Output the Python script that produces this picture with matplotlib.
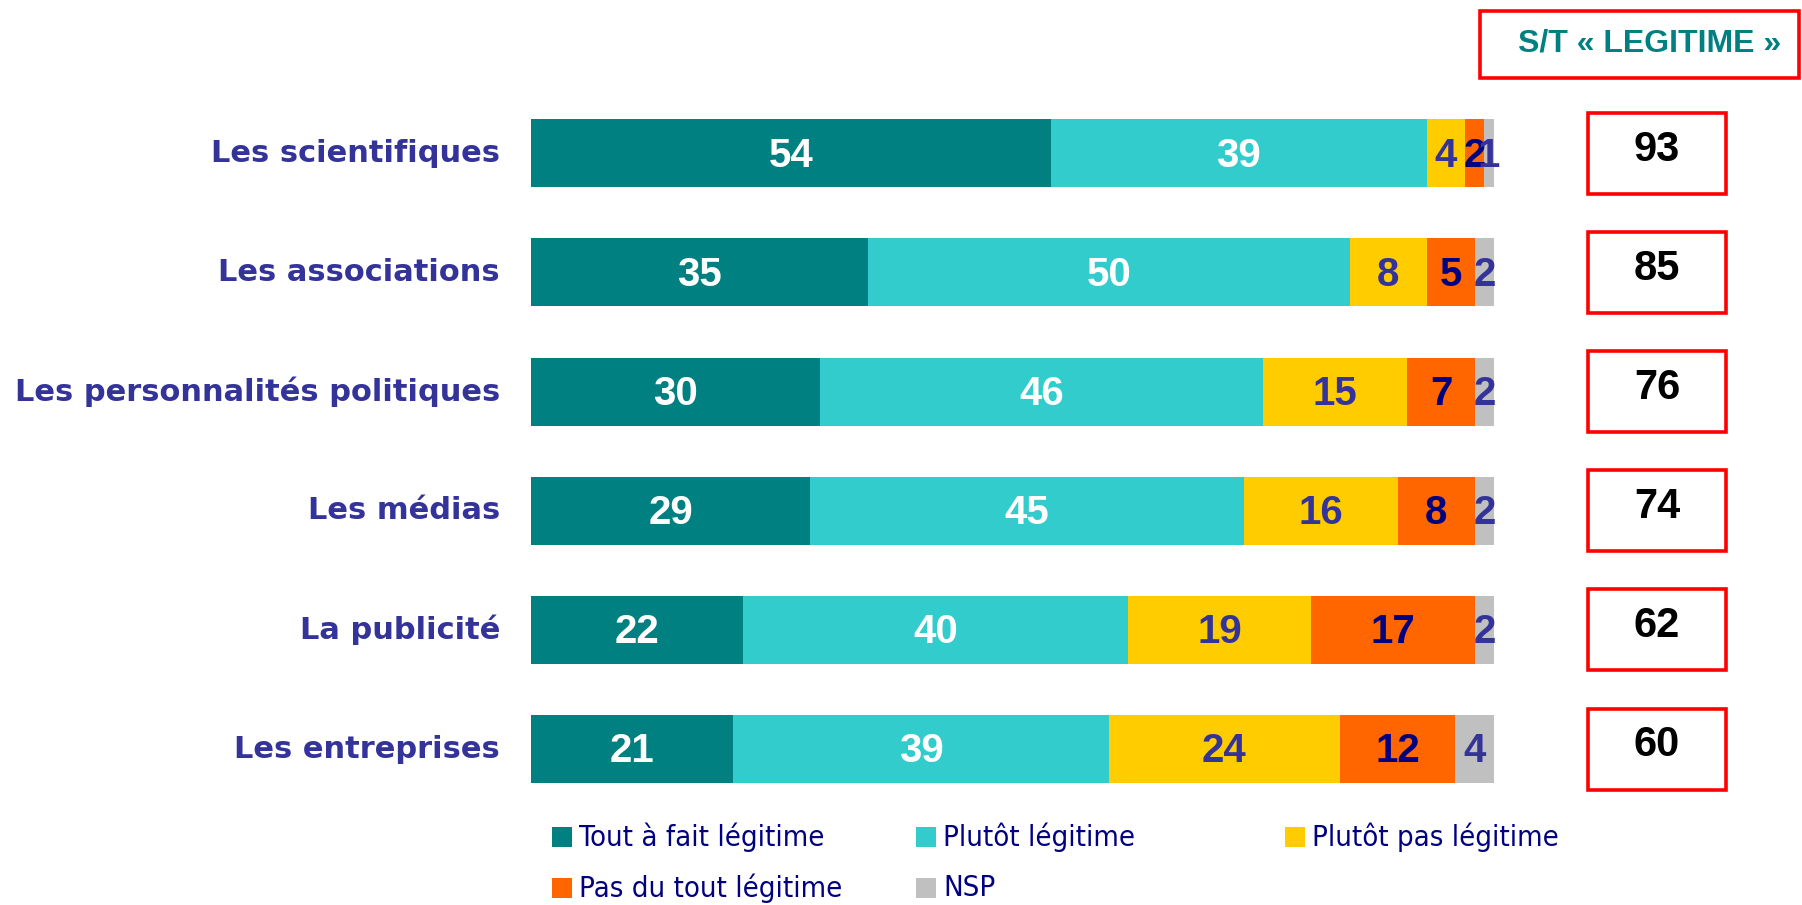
import matplotlib
matplotlib.use("Agg")
import matplotlib.pyplot as plt
from matplotlib.patches import Rectangle
import matplotlib.transforms as mtransforms

# ----------------------------------------------------------------------
# DATA
# ----------------------------------------------------------------------
categories = ["Les scientifiques", "Les associations", "Les personnalités politiques",
              "Les médias", "La publicité", "Les entreprises"]
series = ["Tout à fait légitime", "Plutôt légitime", "Plutôt pas légitime",
          "Pas du tout légitime", "NSP"]
tout_a_fait = [54, 35, 30, 29, 22, 21]
plutot = [39, 50, 46, 45, 40, 39]
plutot_pas = [4, 8, 15, 16, 19, 24]
pas_du_tout = [2, 5, 7, 8, 17, 12]
nsp = [1, 2, 2, 2, 2, 4]
st_legitime = [93, 85, 76, 74, 62, 60]

colors = ["#008080", "#33CCCC", "#FFCC00", "#FF6600", "#C0C0C0"]
label_colors = ["white", "white", "#333399", "#000080", "#333399"]

# ----------------------------------------------------------------------
# FIGURE
# ----------------------------------------------------------------------
W, H = 1802, 905
fig = plt.figure(figsize=(W / 100, H / 100), dpi=100)
ax = fig.add_axes([531 / W, 0.1065, 963 / W, 0.790])

values = [tout_a_fait, plutot, plutot_pas, pas_du_tout, nsp]
ypos = list(range(len(categories)))
left = [0] * len(categories)
for vals, col, lcol in zip(values, colors, label_colors):
    ax.barh(ypos, vals, left=left, height=0.57, color=col, edgecolor="none")
    for i, v in enumerate(vals):
        ax.text(left[i] + v / 2, i + 0.02, str(v), ha="center", va="center",
                fontsize=29, fontweight="bold", color=lcol,
                family="Liberation Sans")
    left = [l + v for l, v in zip(left, vals)]

ax.set_xlim(0, 100)
ax.set_ylim(len(categories) - 0.5, -0.5)
ax.axis("off")

# category labels
trans_lab = mtransforms.blended_transform_factory(fig.transFigure, ax.transData)
for i, c in enumerate(categories):
    fig.text(500 / W, i, c, transform=trans_lab, ha="right", va="center",
             fontsize=22, fontweight="bold", color="#333399",
             family="DejaVu Sans")

# S/T LEGITIME boxes
for i, v in enumerate(st_legitime):
    fig.add_artist(Rectangle((1588 / W, i - 0.34), 138 / W, 0.68,
                             transform=trans_lab, fill=False,
                             edgecolor="#FF0000", linewidth=2.6))
    fig.text(1657 / W, i - 0.03, str(v), transform=trans_lab, ha="center",
             va="center", fontsize=30, fontweight="bold", color="black",
             family="Liberation Sans")

fig.add_artist(Rectangle((1480 / W, 1 - 78 / H), 319 / W, 67 / H,
                         transform=fig.transFigure, fill=False,
                         edgecolor="#FF0000", linewidth=2.6))
fig.text(1650 / W, 1 - 44 / H, "S/T « LEGITIME »", ha="center", va="center",
         fontsize=23, fontweight="bold", color="#008080",
         family="Liberation Sans")

# legend (fixed grid like the original slide)
leg_x = [552, 916, 1285]
leg_y = [837, 888]
for k, (name, col) in enumerate(zip(series, colors)):
    x = leg_x[k % 3]
    y = leg_y[k // 3]
    fig.add_artist(Rectangle((x / W, 1 - (y + 10) / H), 20 / W, 20 / H,
                             transform=fig.transFigure, facecolor=col,
                             edgecolor="none"))
    fig.text((x + 27) / W, 1 - y / H, name, ha="left", va="center",
             fontsize=21, color="#000080", family="DejaVu Sans",
             fontstretch="condensed")

fig.savefig("out.png", dpi=100)
